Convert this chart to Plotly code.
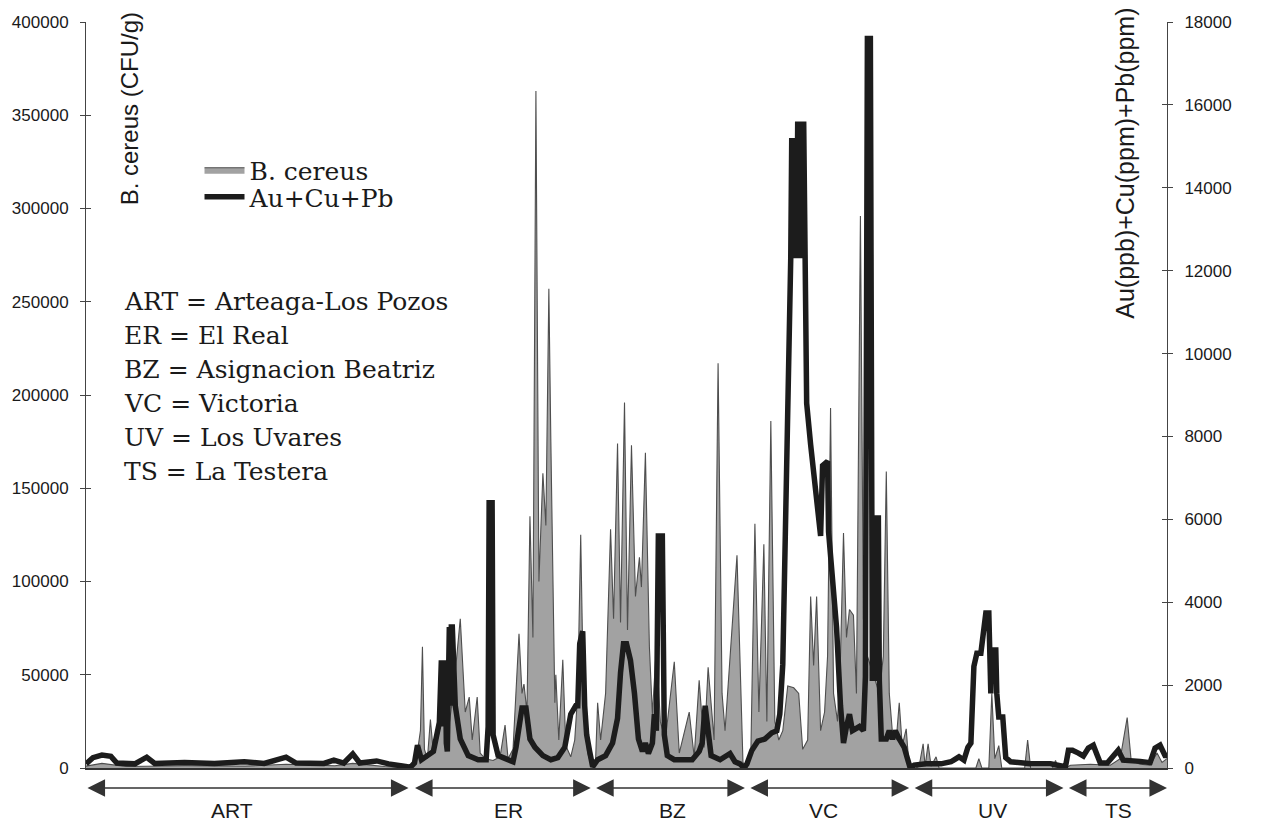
import plotly.graph_objects as go

# Position along the sampling transect (arbitrary units) and measured values, per district.
# B. cereus counts (CFU/g) and Au(ppb)+Cu(ppm)+Pb(ppm) sums are sampled at their own positions.

art_pos_bc = [0, 16, 40, 100, 160, 201, 250, 268, 300, 326]
art_bc = [1000, 2500, 800, 1200, 1000, 2000, 1200, 2500, 800, 0]
art_pos_m = [0, 7, 16, 25, 31, 49, 61, 69, 99, 129, 159, 179, 201, 211, 239, 249,
             259, 268, 275, 292, 304, 319, 326]
art_m = [100, 250, 310, 280, 120, 100, 260, 110, 130, 110, 150, 110, 260, 120, 110, 190,
         120, 340, 120, 170, 100, 60, 20]

er_pos_bc = [326, 332, 336, 338, 340, 343, 346, 349, 353, 359, 364, 369, 376, 381, 385,
             388, 393, 396, 401, 409, 416, 421, 424, 429, 435, 438, 440, 443, 446, 449,
             452, 455, 459, 462, 465, 467, 469, 471, 472, 475, 479, 482, 487, 491, 494,
             497, 500, 504, 508]
er_bc = [0, 5000, 20000, 65000, 10000, 5000, 26000, 8000, 15000, 30000, 20000, 40000,
         80000, 30000, 38000, 15000, 38000, 8000, 5000, 4000, 6000, 23000, 5000, 10000,
         72000, 40000, 45000, 30000, 135000, 70000, 363000, 100000, 158000, 130000,
         257000, 175000, 90000, 35000, 50000, 15000, 58000, 12000, 6000, 15000, 40000,
         125000, 30000, 8000, 1000]
er_pos_m = [326, 330, 333, 337, 344, 349, 355, 357, 358, 359, 360, 361, 362, 363, 365,
            366, 367, 368, 371, 376, 384, 394, 402, 404, 405, 408, 409, 414, 419, 429,
            432, 435, 438, 442, 446, 451, 459, 467, 474, 481, 487, 492, 494, 496, 499,
            501, 503, 506, 509]
er_m = [20, 120, 550, 200, 300, 400, 1100, 2600, 1000, 2600, 1000, 2600, 600, 400, 3400,
        1500, 3400, 3400, 1500, 700, 300, 200, 200, 1000, 6400, 6400, 800, 300, 250, 150,
        500, 900, 1450, 1450, 700, 500, 300, 200, 250, 500, 1300, 1500, 1500, 3000, 3300,
        1500, 800, 400, 30]

bz_pos_bc = [508, 512, 514, 517, 522, 527, 530, 534, 537, 541, 544, 548, 552, 556, 558,
             562, 566, 569, 573, 577, 582, 591, 596, 606, 611, 616, 621, 625, 631, 635,
             639, 642, 654, 660, 664]
bz_bc = [1000, 5000, 35000, 15000, 40000, 128000, 80000, 174000, 78000, 196000, 74000,
         173000, 92000, 113000, 97000, 169000, 65000, 29000, 65000, 25000, 15000, 57000,
         8000, 30000, 6000, 47000, 11000, 54000, 15000, 217000, 40000, 20000, 114000,
         3000, 0]
bz_pos_m = [509, 514, 522, 529, 534, 537, 540, 543, 547, 551, 555, 559, 562, 565, 569,
            571, 573, 575, 579, 581, 584, 591, 609, 616, 619, 622, 625, 628, 637, 647,
            652, 657, 661, 664]
bz_m = [30, 200, 300, 600, 1200, 2300, 3000, 3000, 2600, 1800, 700, 400, 600, 350, 600,
        1300, 900, 5600, 5600, 800, 300, 200, 200, 400, 600, 1500, 1000, 300, 200, 350,
        150, 100, 0, 100]

vc_pos_bc = [664, 668, 672, 676, 681, 684, 688, 692, 696, 700, 705, 711, 716, 720, 725,
             728, 731, 734, 738, 742, 745, 748, 751, 755, 758, 761, 764, 767, 771, 774,
             778, 781, 785, 791, 797, 801, 804, 807, 810, 814, 817, 820, 824, 827]
vc_bc = [0, 10000, 131000, 30000, 120000, 25000, 186000, 25000, 15000, 20000, 44000,
         43000, 40000, 10000, 15000, 92000, 55000, 92000, 20000, 30000, 60000, 193000,
         40000, 25000, 60000, 126000, 70000, 85000, 82000, 40000, 296000, 80000, 60000,
         50000, 40000, 60000, 159000, 40000, 20000, 15000, 35000, 12000, 21000, 0]
vc_pos_m = [669, 675, 682, 689, 694, 697, 700, 703, 706, 708, 709, 710, 711, 712, 713,
            714, 715, 716, 717, 718, 719, 720, 721, 722, 724, 728, 732, 735, 738, 740,
            745, 746, 750, 754, 758, 761, 764, 767, 770, 777, 781, 783, 785, 788, 790,
            792, 793, 794, 795, 796, 797, 799, 804, 807, 810, 813, 817, 822, 825, 828]
vc_m = [430, 650, 700, 850, 900, 1300, 2500, 6000, 9500, 12300, 15200, 12300, 15200,
        12300, 15200, 12300, 15600, 12300, 15600, 12300, 15600, 12300, 15600, 12300, 8800,
        7800, 7000, 6300, 5600, 7300, 7400, 5700, 4600, 3400, 1500, 600, 1000, 1300, 900,
        1000, 900, 2200, 17600, 17600, 2100, 6100, 2100, 6100, 2100, 6100, 2100, 700, 700,
        900, 700, 900, 700, 500, 250, 0]

uv_pos_bc = [827, 834, 837, 841, 843, 846, 849, 854, 857, 894, 897, 900, 907, 910, 913,
             917, 920, 943, 946, 949, 971, 974, 977, 982]
uv_bc = [0, 0, 1000, 13000, 1000, 13000, 1000, 6000, 0, 0, 5000, 0, 0, 40000, 5000,
         12000, 0, 0, 15000, 0, 0, 4000, 0, 0]
uv_pos_m = [832, 844, 859, 869, 877, 882, 886, 889, 892, 895, 899, 902, 904, 907, 909,
            910, 914, 915, 917, 921, 924, 929, 949, 969, 979, 982]
uv_m = [70, 100, 100, 150, 270, 190, 500, 600, 2450, 2770, 2770, 3400, 3740, 3740, 1800,
        2850, 2850, 1800, 1230, 1230, 250, 150, 100, 100, 50, 30]

ts_pos_bc = [984, 989, 1009, 1029, 1039, 1046, 1050, 1059, 1069, 1076, 1081, 1086]
ts_bc = [0, 1500, 2000, 1500, 5000, 27000, 4000, 2000, 1500, 8000, 3000, 5000]
ts_pos_m = [984, 987, 991, 997, 1002, 1007, 1012, 1016, 1019, 1026, 1032, 1037, 1042,
            1049, 1059, 1069, 1074, 1079, 1084, 1086]
ts_m = [30, 430, 430, 360, 290, 480, 550, 300, 120, 120, 310, 430, 190, 190, 160, 130,
        480, 550, 300, 300]

# District extents along the transect and where their codes are written
districts = ["ART", "ER", "BZ", "VC", "UV", "TS"]
district_start = [0, 329, 511, 666, 831, 986]
district_end = [324, 507, 662, 827, 982, 1086]
district_label_at = [147, 424, 589, 741, 911, 1037]

district_names = [
    "ART = Arteaga-Los Pozos",
    "ER = El Real",
    "BZ = Asignacion Beatriz",
    "VC = Victoria",
    "UV = Los Uvares",
    "TS = La Testera",
]

bc_x = art_pos_bc + er_pos_bc + bz_pos_bc + vc_pos_bc + uv_pos_bc + ts_pos_bc
bc_y = art_bc + er_bc + bz_bc + vc_bc + uv_bc + ts_bc
m_x = art_pos_m + er_pos_m + bz_pos_m + vc_pos_m + uv_pos_m + ts_pos_m
m_y = art_m + er_m + bz_m + vc_m + uv_m + ts_m

X_MAX = 1086
BC_MAX = 400000
M_MAX = 18000

fig = go.Figure()
fig.add_trace(go.Scatter(
    x=bc_x, y=bc_y, name="B. cereus", mode="lines", fill="tozeroy",
    fillcolor="#a2a2a2", line=dict(color="#4e4e4e", width=1.1), yaxis="y",
    hoverinfo="skip", legend="legend",
))
fig.add_trace(go.Scatter(
    x=m_x, y=m_y, name="Au+Cu+Pb", mode="lines",
    line=dict(color="#1c1c1c", width=5.5), yaxis="y2", hoverinfo="skip",
    legend="legend2",
))
# empty traces so the inner tick-mark axes get drawn
fig.add_trace(go.Scatter(x=[], y=[], yaxis="y3", showlegend=False, hoverinfo="skip"))
fig.add_trace(go.Scatter(x=[], y=[], yaxis="y4", showlegend=False, hoverinfo="skip"))

tick_font = dict(family="Liberation Sans, Arial, sans-serif", size=17, color="#1a1a1a")
title_font = dict(family="Liberation Sans, Arial, sans-serif", size=24, color="#1a1a1a")
serif_font = dict(family="DejaVu Serif, serif", size=25, color="#1a1a1a")

common_y = dict(showgrid=False, zeroline=False, tickcolor="#444", ticklen=5, tickwidth=1)
legend_common = dict(x=0.105, xanchor="left", yanchor="middle", font=serif_font,
                     bgcolor="rgba(0,0,0,0)", itemwidth=40)

fig.update_layout(
    width=1264, height=823,
    margin=dict(l=81, r=97, t=22, b=55),
    plot_bgcolor="white", paper_bgcolor="white",
    hovermode=False,
    xaxis=dict(range=[0, X_MAX], showgrid=False, zeroline=False, showticklabels=False,
               ticks="", showline=True, linecolor="#333", linewidth=1.5),
    yaxis=dict(range=[0, BC_MAX], dtick=50000, tickformat="d", ticks="outside",
               showline=True, linecolor="#444", linewidth=1, tickfont=tick_font,
               ticklabelstandoff=8, **common_y),
    yaxis2=dict(range=[0, M_MAX], dtick=2000, tickformat="d", ticks="outside",
                overlaying="y", side="right", showline=True, linecolor="#444",
                linewidth=1, tickfont=tick_font, ticklabelstandoff=8, **common_y),
    yaxis3=dict(range=[0, BC_MAX], dtick=50000, ticks="inside", overlaying="y",
                side="left", showticklabels=False, showline=False, **common_y),
    yaxis4=dict(range=[0, M_MAX], dtick=2000, ticks="inside", overlaying="y",
                side="right", showticklabels=False, showline=False, **common_y),
    legend=dict(y=0.8016, **legend_common),
    legend2=dict(y=0.7654, **legend_common),
    showlegend=True,
)

annotations = [
    dict(text="B. cereus (CFU/g)", textangle=-90, x=0.0405, y=1.016, xref="paper",
         yref="paper", xanchor="center", yanchor="top", showarrow=False, font=title_font),
    dict(text="Au(ppb)+Cu(ppm)+Pb(ppm)", textangle=-90, x=0.9604, y=1.0214,
         xref="paper", yref="paper", xanchor="center", yanchor="top", showarrow=False,
         font=dict(title_font, size=25)),
]

# district key, one line each
for i, line in enumerate(district_names):
    annotations.append(dict(
        text=line, x=0.033, y=0.626 - i * 0.0456, xref="paper", yref="paper",
        xanchor="left", yanchor="middle", showarrow=False, font=serif_font,
    ))

# double-headed arrows marking each district along the transect, with its code beneath
for name, s, e, c in zip(districts, district_start, district_end, district_label_at):
    annotations.append(dict(
        text="", x=e, y=-0.0268, xref="x", yref="paper", ax=s, ay=0, axref="x",
        ayref="pixel", showarrow=True, arrowside="end+start", arrowhead=2,
        startarrowhead=2, arrowsize=2.7, startarrowsize=2.7, arrowwidth=1.3,
        arrowcolor="#333",
    ))
    annotations.append(dict(
        text=name, x=c, y=-0.0576, xref="x", yref="paper", xanchor="center",
        yanchor="middle", showarrow=False,
        font=dict(family="Liberation Sans, Arial, sans-serif", size=21, color="#1a1a1a"),
    ))

fig.update_layout(annotations=annotations)

fig.write_html("out.html")
